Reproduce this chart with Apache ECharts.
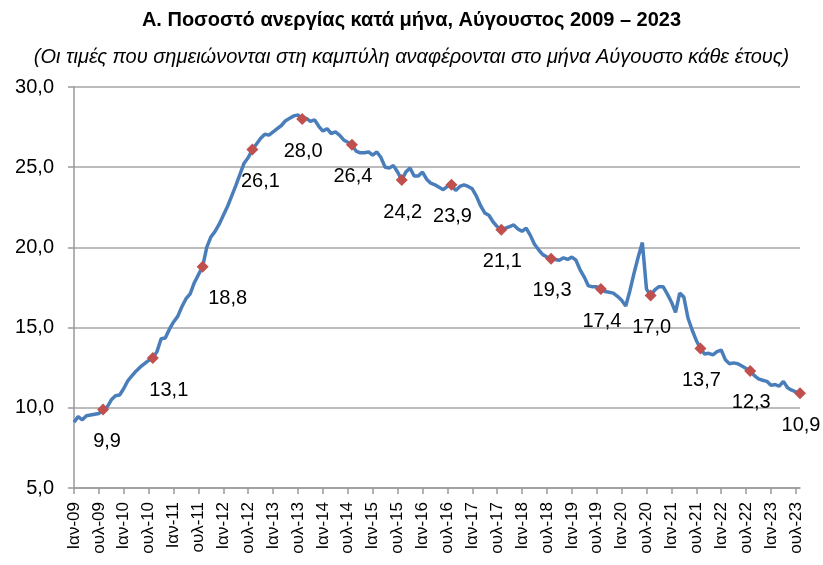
<!DOCTYPE html>
<html>
<head>
<meta charset="utf-8">
<script src="https://cdn.jsdelivr.net/npm/echarts@6/dist/echarts.min.js"></script>
<style>
  html, body { margin: 0; padding: 0; background: #fff; }
  #chart { width: 823px; height: 565px; }
</style>
</head>
<body>
<div id="chart"></div>
<script>
// monthly unemployment rate (%), Jan 2009 - Aug 2023
var rate2009 = [9.1, 9.45, 9.25, 9.5, 9.55, 9.6, 9.65, 9.9, 10.05, 10.5, 10.75, 10.8];
var rate2010 = [11.2, 11.7, 12.0, 12.3, 12.55, 12.75, 12.95, 13.1, 13.5, 14.3, 14.35, 14.9];
var rate2011 = [15.35, 15.7, 16.3, 16.8, 17.1, 17.8, 18.3, 18.8, 20.0, 20.65, 21.0, 21.45];
var rate2012 = [22.0, 22.55, 23.2, 23.85, 24.55, 25.25, 25.6, 26.1, 26.45, 26.8, 27.05, 27.0];
var rate2013 = [27.2, 27.4, 27.6, 27.9, 28.05, 28.2, 28.25, 28.0, 28.05, 27.85, 27.95, 27.55];
var rate2014 = [27.25, 27.4, 27.1, 27.2, 27.0, 26.7, 26.55, 26.4, 26.0, 25.9, 25.9, 25.95];
var rate2015 = [25.75, 25.95, 25.6, 25.0, 24.95, 25.1, 24.7, 24.2, 24.7, 24.95, 24.45, 24.45];
var rate2016 = [24.7, 24.25, 24.0, 23.9, 23.75, 23.6, 23.8, 23.9, 23.55, 23.8, 23.9, 23.8];
var rate2017 = [23.65, 23.2, 22.6, 22.15, 22.0, 21.6, 21.3, 21.1, 21.2, 21.3, 21.4, 21.15];
var rate2018 = [21.0, 21.2, 20.75, 20.2, 19.85, 19.55, 19.4, 19.3, 19.25, 19.2, 19.35, 19.25];
var rate2019 = [19.4, 19.2, 18.6, 18.15, 17.6, 17.55, 17.55, 17.4, 17.25, 17.2, 17.15, 16.95];
var rate2020 = [16.7, 16.35, 17.3, 18.4, 19.4, 20.3, 17.4, 17.0, 17.35, 17.55, 17.55, 17.1];
var rate2021 = [16.6, 15.95, 17.15, 16.9, 15.6, 14.85, 14.2, 13.7, 13.35, 13.4, 13.3, 13.5];
var rate2022 = [13.6, 13.0, 12.75, 12.8, 12.75, 12.6, 12.45, 12.3, 12.0, 11.8, 11.72, 11.65];
var rate2023 = [11.4, 11.45, 11.35, 11.65, 11.25, 11.1, 11.0, 10.9];

var years = ['09', '10', '11', '12', '13', '14', '15', '16', '17', '18', '19', '20', '21', '22', '23'];
var monthNames = ['Ιαν', 'Φεβ', 'Μαρ', 'Απρ', 'Μαϊ', 'Ιουν', 'ουλ', 'Αυγ', 'Σεπ', 'Οκτ', 'Νοε', 'Δεκ'];

// horizontal nudge of some August labels (steep part of the curve)
var labelShift = {'09': 4, '10': 16, '11': 25, '12': 8};

var values = [].concat(rate2009, rate2010, rate2011, rate2012, rate2013, rate2014, rate2015,
    rate2016, rate2017, rate2018, rate2019, rate2020, rate2021, rate2022, rate2023);

var categories = [];
for (var i = 0; i < values.length; i++) {
    categories.push(monthNames[i % 12] + '-' + years[Math.floor(i / 12)]);
}

function comma(v) {
    return v.toFixed(1).replace('.', ',');
}

var seriesData = values.map(function(v, i) {
    if (i % 12 !== 7) {
        return v;
    }
    var yr = years[Math.floor(i / 12)];
    return {
        value: v,
        symbol: 'diamond',
        symbolSize: 12,
        itemStyle: {color: '#C0504D'},
        label: {
            show: true,
            position: 'bottom',
            distance: 16,
            offset: [labelShift[yr] || 1, 0],
            formatter: function(p) { return comma(p.value); },
            fontSize: 20,
            color: '#000',
            fontFamily: 'Liberation Sans'
        }
    };
});

var showEvery6 = function(idx) { return idx % 6 === 0; };

var chart = echarts.init(document.getElementById('chart'));
var option = {
    animation: false,
    title: [{
        text: 'Α. Ποσοστό ανεργίας κατά μήνα, Αύγουστος 2009 – 2023',
        left: 'center',
        top: 5,
        textStyle: {fontSize: 20, fontWeight: 'bold', color: '#000', fontFamily: 'Liberation Sans'}
    }, {
        text: '(Οι τιμές που σημειώνονται στη καμπύλη αναφέρονται στο μήνα Αύγουστο κάθε έτους)',
        left: 'center',
        top: 42,
        textStyle: {fontSize: 20, fontWeight: 'normal', fontStyle: 'italic', color: '#000', fontFamily: 'Liberation Sans'}
    }],
    grid: {left: 74, right: 23, top: 87, bottom: 77},
    xAxis: {
        type: 'category',
        data: categories,
        boundaryGap: false,
        axisLine: {lineStyle: {color: '#999', width: 1.5}},
        axisTick: {show: true, interval: showEvery6, length: 6, lineStyle: {color: '#999', width: 1.5}},
        axisLabel: {
            interval: showEvery6,
            rotate: 90,
            margin: 14,
            fontSize: 17,
            color: '#000',
            fontFamily: 'Liberation Sans'
        },
        splitLine: {show: false}
    },
    yAxis: {
        type: 'value',
        min: 5,
        max: 30,
        interval: 5,
        axisLine: {show: true, lineStyle: {color: '#999', width: 1.5}},
        axisTick: {show: true, length: 6, lineStyle: {color: '#999', width: 1.5}},
        axisLabel: {
            margin: 20,
            fontSize: 20,
            color: '#000',
            fontFamily: 'Liberation Sans',
            formatter: function(v) { return comma(v); }
        },
        splitLine: {lineStyle: {color: '#a6a6a6', width: 1.5}}
    },
    series: [{
        type: 'line',
        data: seriesData,
        symbol: 'none',
        showSymbol: true,
        showAllSymbol: true,
        lineStyle: {color: '#4A7EBB', width: 3.5},
        itemStyle: {color: '#4A7EBB'},
        z: 3
    }]
};
chart.setOption(option);
</script>
</body>
</html>
